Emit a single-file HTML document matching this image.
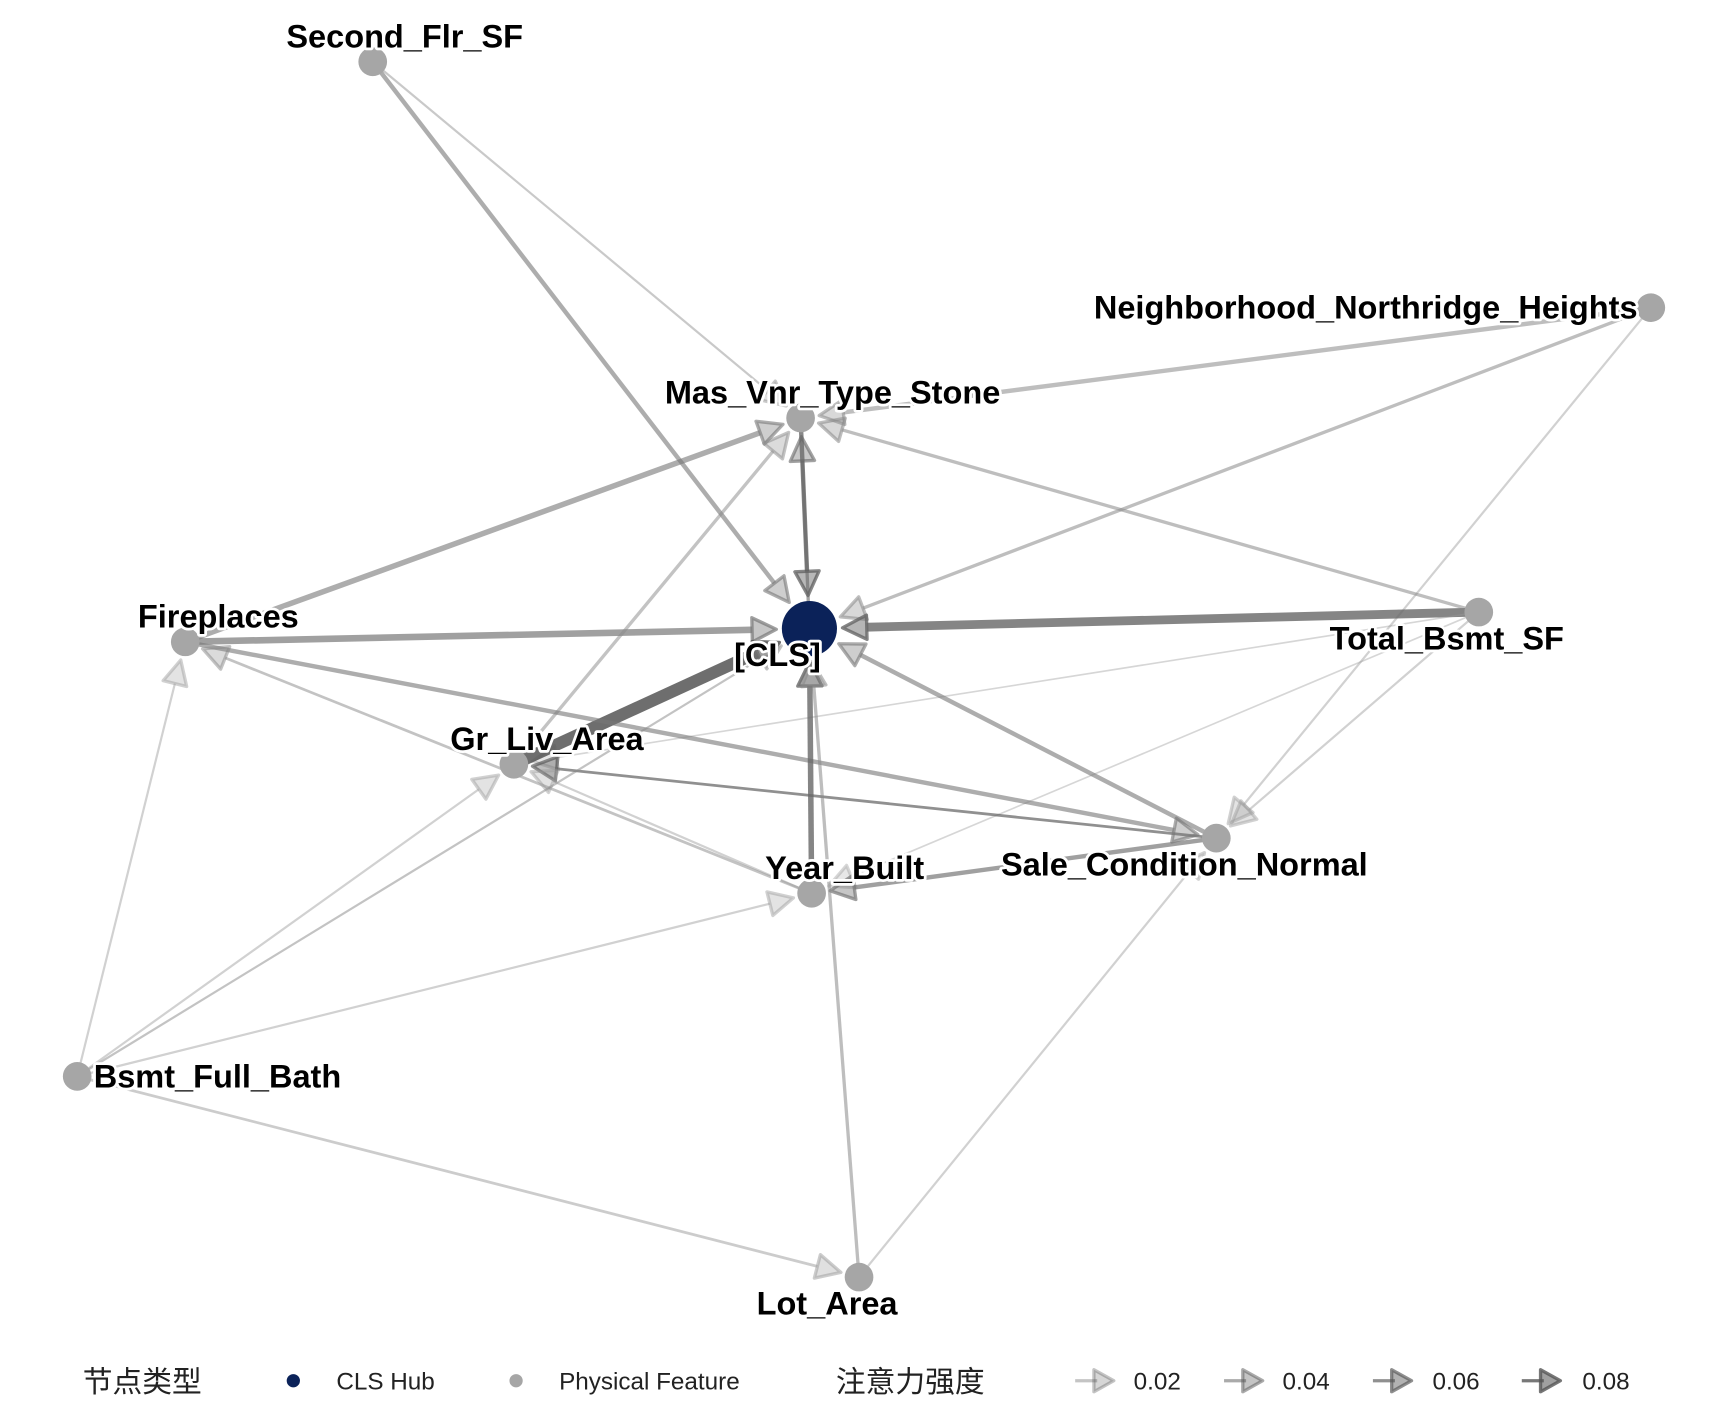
<!DOCTYPE html>
<html><head><meta charset="utf-8"><style>
html,body{margin:0;padding:0;background:#fff;}
svg{display:block;}
.lb{font-family:"Liberation Sans",sans-serif;font-weight:bold;font-size:29.5px;fill:#000;stroke:#fff;stroke-width:5px;paint-order:stroke;stroke-linejoin:round;}
.lg{font-family:"Liberation Sans","Noto Sans CJK SC",sans-serif;font-size:22px;fill:#222;}
.lgc{font-family:"Liberation Sans","Noto Sans CJK SC",sans-serif;font-size:27px;fill:#222;}
</style></head><body>
<svg id="s" width="1728" height="1405" viewBox="0 0 1567 1274" preserveAspectRatio="none" xmlns="http://www.w3.org/2000/svg">
<g id="edges"></g>
<g id="nodes">
<circle cx="338" cy="56" r="13" fill="#a6a6a6"/>
<circle cx="1497" cy="279" r="13" fill="#a6a6a6"/>
<circle cx="726" cy="379" r="13" fill="#a6a6a6"/>
<circle cx="168" cy="582" r="13" fill="#a6a6a6"/>
<circle cx="1341" cy="555" r="13" fill="#a6a6a6"/>
<circle cx="466" cy="693" r="13" fill="#a6a6a6"/>
<circle cx="1103" cy="760" r="13" fill="#a6a6a6"/>
<circle cx="736" cy="810" r="13" fill="#a6a6a6"/>
<circle cx="70" cy="976" r="13" fill="#a6a6a6"/>
<circle cx="779" cy="1158" r="13" fill="#a6a6a6"/>
<circle cx="734" cy="570" r="25" fill="#0b2259"/>
</g>
<g>
<text class="lb" x="367" y="43" text-anchor="middle">Second_Flr_SF</text>
<text class="lb" x="1485" y="289" text-anchor="end">Neighborhood_Northridge_Heights</text>
<text class="lb" x="755" y="366" text-anchor="middle">Mas_Vnr_Type_Stone</text>
<text class="lb" x="198" y="569" text-anchor="middle">Fireplaces</text>
<text class="lb" x="705" y="604" text-anchor="middle">[CLS]</text>
<text class="lb" x="1312" y="589" text-anchor="middle">Total_Bsmt_SF</text>
<text class="lb" x="496" y="680" text-anchor="middle">Gr_Liv_Area</text>
<text class="lb" x="1074" y="794" text-anchor="middle">Sale_Condition_Normal</text>
<text class="lb" x="766" y="797" text-anchor="middle">Year_Built</text>
<text class="lb" x="85" y="986">Bsmt_Full_Bath</text>
<text class="lb" x="750" y="1192" text-anchor="middle">Lot_Area</text>
</g>
<g id="legend">
<text class="lgc" x="75" y="1262">节点类型</text>
<circle cx="266" cy="1252" r="6" fill="#0b2259"/>
<text class="lg" x="305" y="1260">CLS Hub</text>
<circle cx="468" cy="1252" r="6" fill="#a6a6a6"/>
<text class="lg" x="507" y="1260">Physical Feature</text>
<text class="lgc" x="758" y="1262">注意力强度</text>
<text class="lg" x="1028" y="1260">0.02</text>
<text class="lg" x="1163" y="1260">0.04</text>
<text class="lg" x="1299" y="1260">0.06</text>
<text class="lg" x="1435" y="1260">0.08</text>
</g>
</svg>
<script>
var N={sf:[338,56],nn:[1497,279],mv:[726,379],fp:[168,582],cls:[734,570],tb:[1341,555],gl:[466,693],sc:[1103,760],yb:[736,810],bf:[70,976],la:[779,1158]};
var E=[
['sf','cls',4,.6,'#777'],['sf','mv',2,.45,'#888'],
['nn','mv',4,.55,'#888'],['nn','cls',3,.55,'#888'],['nn','sc',2,.45,'#999'],
['mv','cls',4,.7,'#555'],['cls','mv',3,.6,'#666'],
['fp','mv',5,.6,'#777'],['fp','cls',6,.7,'#777'],
['tb','cls',8,.8,'#666'],['tb','mv',3,.55,'#888'],['tb','sc',2,.45,'#999'],['tb','gl',1.5,.4,'#999'],['tb','yb',1.5,.4,'#999'],
['gl','cls',11,.85,'#555'],['gl','mv',3,.5,'#888'],
['sc','cls',4,.6,'#777'],['sc','gl',2.5,.65,'#555'],['fp','sc',4,.6,'#777'],['sc','yb',4,.7,'#777'],
['yb','cls',5,.8,'#666'],['yb','fp',2.5,.5,'#888'],['yb','gl',2,.45,'#999'],
['la','cls',3,.55,'#888'],['la','sc',2,.45,'#999'],
['bf','fp',2,.45,'#999'],['bf','gl',2,.45,'#999'],['bf','cls',2,.5,'#888'],['bf','yb',2,.45,'#999'],['bf','la',2.5,.5,'#999']
];
var g=document.getElementById('edges'),h='';
E.forEach(function(e){
 var a=N[e[0]],b=N[e[1]],dx=b[0]-a[0],dy=b[1]-a[1],L=Math.hypot(dx,dy),ux=dx/L,uy=dy/L;
 var r=(e[1]=='cls')?30:17;
 var tx=b[0]-ux*r,ty=b[1]-uy*r,bx=tx-ux*22,by=ty-uy*22,px=-uy*11,py=ux*11;
 h+='<line x1="'+a[0]+'" y1="'+a[1]+'" x2="'+bx+'" y2="'+by+'" stroke="'+e[4]+'" stroke-opacity="'+e[3]+'" stroke-width="'+e[2]+'"/>';
 h+='<polygon points="'+tx+','+ty+' '+(bx+px)+','+(by+py)+' '+(bx-px)+','+(by-py)+'" fill="'+e[4]+'" fill-opacity="'+(e[3]*0.6)+'" stroke="'+e[4]+'" stroke-opacity="'+e[3]+'" stroke-width="3" stroke-linejoin="round"/>';
});
[[975,.35],[1110,.5],[1245,.65],[1380,.8]].forEach(function(l){
 var x=l[0];
 h+='<line x1="'+x+'" y1="1252" x2="'+(x+20)+'" y2="1252" stroke="#555" stroke-opacity="'+l[1]+'" stroke-width="3"/>';
 h+='<polygon points="'+(x+35)+',1252 '+(x+17)+',1242 '+(x+17)+',1262" fill="#555" fill-opacity="'+(l[1]*0.7)+'" stroke="#555" stroke-opacity="'+l[1]+'" stroke-width="3" stroke-linejoin="round"/>';
});
g.innerHTML=h;
</script>
</body></html>
